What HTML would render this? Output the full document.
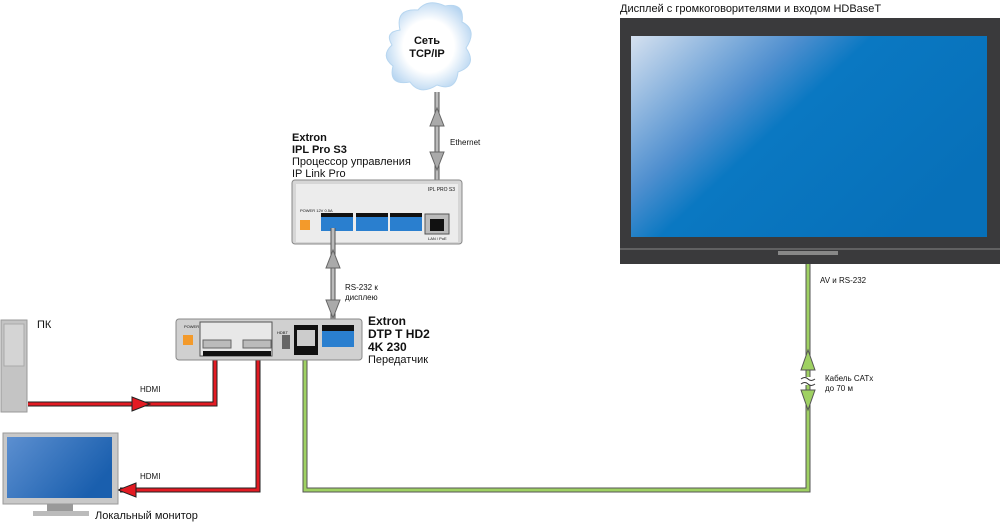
<!DOCTYPE html>
<html><head><meta charset="utf-8"><style>
html,body{margin:0;padding:0;background:#fff}
svg{display:block}
text{font-family:"Liberation Sans",sans-serif;fill:#111}
</style></head><body>
<svg width="1000" height="522" viewBox="0 0 1000 522" xmlns="http://www.w3.org/2000/svg">
<defs>
<linearGradient id="scr" x1="0" y1="0" x2="1" y2="0.6">
<stop offset="0" stop-color="#d5e1f0"/><stop offset="0.35" stop-color="#4f8fcf"/><stop offset="0.5" stop-color="#0a78c2"/><stop offset="1" stop-color="#0770b9"/></linearGradient>
<linearGradient id="scr2" x1="0" y1="0" x2="1" y2="0.5">
<stop offset="0" stop-color="#5c8fd0"/><stop offset="1" stop-color="#1a5fae"/></linearGradient>
<radialGradient id="cl" cx="0.5" cy="0.5" r="0.6"><stop offset="0.5" stop-color="#fff"/><stop offset="1" stop-color="#a9cdee"/></radialGradient>
</defs>

<!-- cloud -->
<g fill="url(#cl)" stroke="#b7d6f0" stroke-width="1">
<path d="M400,30 Q395,8 418,10 Q428,-2 445,6 Q465,2 462,22 Q478,30 466,48 Q478,65 458,72 Q456,92 437,85 Q420,96 410,82 Q388,86 393,66 Q380,56 392,45 Q384,32 400,30 Z"/>
</g>
<text x="427" y="44" font-size="11" font-weight="bold" text-anchor="middle">Сеть</text>
<text x="427" y="57" font-size="11" font-weight="bold" text-anchor="middle">TCP/IP</text>

<!-- Ethernet line -->
<line x1="437" y1="92" x2="437" y2="212" stroke="#555" stroke-width="5"/>
<line x1="437" y1="92" x2="437" y2="212" stroke="#bbb" stroke-width="3"/>
<polygon points="437,108 430,126 444,126" fill="#aaa" stroke="#666"/>
<polygon points="437,170 430,152 444,152" fill="#aaa" stroke="#666"/>
<text x="450" y="145" font-size="8">Ethernet</text>

<!-- IPL Pro S3 label -->
<text x="292" y="141" font-size="11" font-weight="bold">Extron</text>
<text x="292" y="153" font-size="11" font-weight="bold">IPL Pro S3</text>
<text x="292" y="165" font-size="11">Процессор управления</text>
<text x="292" y="177" font-size="11">IP Link Pro</text>

<!-- IPL box -->
<rect x="292" y="180" width="170" height="64" rx="3" fill="#d6d6d6" stroke="#888"/>
<rect x="296" y="184" width="162" height="58" fill="#ececec"/>
<text x="428" y="191" font-size="5">IPL PRO S3</text>
<text x="300" y="212" font-size="4">POWER 12V 0.5A</text>
<rect x="300" y="220" width="10" height="10" fill="#f39a2b"/>
<g>
<rect x="321" y="213" width="32" height="4" fill="#111"/><rect x="321" y="217" width="32" height="14" fill="#2a7fcf"/>
<rect x="356" y="213" width="32" height="4" fill="#111"/><rect x="356" y="217" width="32" height="14" fill="#2a7fcf"/>
<rect x="390" y="213" width="32" height="4" fill="#111"/><rect x="390" y="217" width="32" height="14" fill="#2a7fcf"/>
</g>
<rect x="425" y="214" width="24" height="20" fill="#bbb" stroke="#555"/>
<rect x="430" y="219" width="14" height="12" fill="#111"/>
<text x="428" y="240" font-size="4">LAN / PoE</text>

<!-- RS-232 line -->
<line x1="333" y1="228" x2="333" y2="332" stroke="#555" stroke-width="5"/>
<line x1="333" y1="228" x2="333" y2="332" stroke="#bbb" stroke-width="3"/>
<polygon points="333,250 326,268 340,268" fill="#aaa" stroke="#666"/>
<polygon points="333,318 326,300 340,300" fill="#aaa" stroke="#666"/>
<text x="345" y="290" font-size="8">RS-232 к</text>
<text x="345" y="300" font-size="8">дисплею</text>

<!-- display -->
<text x="620" y="12" font-size="11">Дисплей с громкоговорителями и входом HDBaseT</text>
<rect x="620" y="18" width="380" height="246" fill="#3a3a3c"/>
<rect x="631" y="36" width="356" height="201" fill="url(#scr)"/>
<line x1="620" y1="249" x2="1000" y2="249" stroke="#888" stroke-width="1"/>
<rect x="778" y="251" width="60" height="4" fill="#888"/>
<text x="820" y="283" font-size="8">AV и RS-232</text>

<!-- green cable -->
<path d="M305,350 V490 H808 V264" fill="none" stroke="#555" stroke-width="5"/>
<path d="M305,350 V490 H808 V264" fill="none" stroke="#9fd163" stroke-width="3"/>
<rect x="800" y="377" width="16" height="8" fill="#fff"/>
<path d="M801,379 q4,-3 7,0 t7,0 M801,384 q4,-3 7,0 t7,0" stroke="#333" fill="none"/>
<polygon points="808,350 801,370 815,370" fill="#9fd163" stroke="#555"/>
<polygon points="808,410 801,390 815,390" fill="#9fd163" stroke="#555"/>
<text x="825" y="381" font-size="8">Кабель CATx</text>
<text x="825" y="391" font-size="8">до 70 м</text>

<!-- red cables -->
<path d="M28,404 H215 V345" fill="none" stroke="#222" stroke-width="5"/>
<path d="M28,404 H215 V345" fill="none" stroke="#e31b23" stroke-width="3"/>
<polygon points="150,404 132,397 132,411" fill="#e31b23" stroke="#222"/>
<text x="140" y="392" font-size="8">HDMI</text>
<path d="M258,345 V490 H120" fill="none" stroke="#222" stroke-width="5"/>
<path d="M258,345 V490 H120" fill="none" stroke="#e31b23" stroke-width="3"/>
<polygon points="118,490 136,483 136,497" fill="#e31b23" stroke="#222"/>
<text x="140" y="479" font-size="8">HDMI</text>

<!-- DTP box -->
<rect x="176" y="319" width="186" height="41" rx="3" fill="#d0d0d0" stroke="#888"/>
<text x="184" y="328" font-size="4">POWER 12V 1A</text>
<rect x="183" y="335" width="10" height="10" fill="#f39a2b"/>
<rect x="200" y="322" width="72" height="34" fill="#e8e8e8" stroke="#555"/>
<rect x="203" y="340" width="28" height="8" fill="#bbb" stroke="#666"/>
<rect x="243" y="340" width="28" height="8" fill="#bbb" stroke="#666"/>
<rect x="203" y="351" width="68" height="5" fill="#111"/>
<rect x="282" y="335" width="8" height="14" fill="#666"/>
<text x="277" y="334" font-size="4">HDBT</text>
<rect x="294" y="325" width="24" height="30" fill="#111"/>
<rect x="297" y="330" width="18" height="16" fill="#ccc"/>
<rect x="322" y="325" width="32" height="6" fill="#111"/>
<rect x="322" y="331" width="32" height="16" fill="#2a7fcf"/>
<text x="368" y="325" font-size="12" font-weight="bold">Extron</text>
<text x="368" y="338" font-size="12" font-weight="bold">DTP T HD2</text>
<text x="368" y="351" font-size="12" font-weight="bold">4K 230</text>
<text x="368" y="363" font-size="11">Передатчик</text>

<!-- PC -->
<rect x="1" y="320" width="26" height="92" fill="#c4c4c4" stroke="#999"/>
<rect x="4" y="324" width="20" height="42" fill="#d4d4d4" stroke="#aaa"/>
<text x="37" y="328" font-size="11">ПК</text>

<!-- local monitor -->
<rect x="3" y="433" width="115" height="71" fill="#c8c8c8" stroke="#999"/>
<rect x="7" y="437" width="105" height="61" fill="url(#scr2)"/>
<rect x="47" y="504" width="26" height="8" fill="#999"/>
<rect x="33" y="511" width="56" height="5" fill="#bbb"/>
<text x="95" y="519" font-size="11">Локальный монитор</text>
</svg>
</body></html>
